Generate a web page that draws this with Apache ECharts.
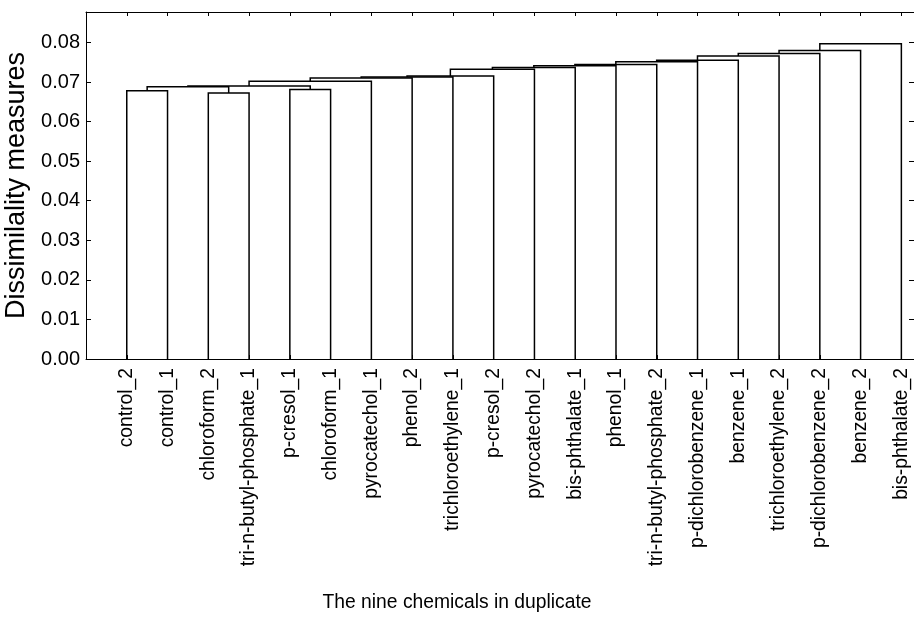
<!DOCTYPE html>
<html>
<head>
<meta charset="utf-8">
<script src="https://cdn.jsdelivr.net/npm/echarts@6/dist/echarts.min.js"></script>
<style>
  html, body { margin: 0; padding: 0; background: #fff; }
  #chart { width: 914px; height: 644px; }
</style>
</head>
<body>
<div id="chart"></div>
<script>
// Leaves in dendrogram order (left to right)
const leaves = [
  'control_2', 'control_1', 'chloroform_2', 'tri-n-butyl-phosphate_1',
  'p-cresol_1', 'chloroform_1', 'pyrocatechol_1', 'phenol_2',
  'trichloroethylene_1', 'p-cresol_2', 'pyrocatechol_2', 'bis-phthalate_1',
  'phenol_1', 'tri-n-butyl-phosphate_2', 'p-dichlorobenzene_1', 'benzene_1',
  'trichloroethylene_2', 'p-dichlorobenzene_2', 'benzene_2', 'bis-phthalate_2'
];

// Linkage: merge k creates node id (leaves.length + k) from two child ids
const mergeLeft  = [2, 0, 4, 21, 23, 24, 25, 26, 27, 28, 29, 30, 31, 32, 33, 34, 35, 36, 37];
const mergeRight = [3, 1, 5, 20, 22, 6, 7, 8, 9, 10, 11, 12, 13, 14, 15, 16, 17, 18, 19];
const mergeHeight = [
  0.0672, 0.0678, 0.0681, 0.0688, 0.0690, 0.0702, 0.0710, 0.0713, 0.0715, 0.0732,
  0.0737, 0.0741, 0.0744, 0.0751, 0.0755, 0.0766, 0.0772, 0.0780, 0.0797
];

// Y axis tick values
const yTicks = [0, 0.01, 0.02, 0.03, 0.04, 0.05, 0.06, 0.07, 0.08];

const FONT = "'Liberation Sans', Arial, Helvetica, sans-serif";

// Build the U-shaped links of the dendrogram in data coordinates
const nodes = leaves.map((_, i) => ({ x: i, h: 0 }));
const links = [];
mergeHeight.forEach((h, k) => {
  const a = nodes[mergeLeft[k]];
  const b = nodes[mergeRight[k]];
  links.push({ coords: [[a.x, a.h], [a.x, h], [b.x, h], [b.x, b.h]] });
  nodes.push({ x: (a.x + b.x) / 2, h: h });
});

const leafIdx = leaves.map((_, i) => i);

const chart = echarts.init(document.getElementById('chart'), null, { renderer: 'canvas' });
chart.setOption({
  animation: false,
  backgroundColor: '#fff',
  textStyle: { fontFamily: FONT },
  title: {
    text: 'The nine chemicals in duplicate',
    left: 'center',
    top: 588,
    textStyle: { fontSize: 19.3, fontWeight: 'normal', color: '#000', fontFamily: FONT }
  },
  grid: { left: 86, right: 0, top: 12, bottom: 285, containLabel: false, outerBoundsMode: 'none' },
  xAxis: [
    {
      type: 'value', position: 'bottom', min: -1, max: 19.31,
      splitLine: { show: false },
      axisLine: { show: true, onZero: false, lineStyle: { color: '#000', width: 1 } },
      axisTick: { show: true, inside: true, length: 4, customValues: leafIdx, lineStyle: { color: '#000' } },
      axisLabel: {
        customValues: leafIdx, rotate: 90, margin: 9, fontSize: 19.3, color: '#000', fontFamily: FONT,
        formatter: v => leaves[Math.round(v)] || ''
      }
    },
    {
      type: 'value', position: 'top', min: -1, max: 19.31,
      splitLine: { show: false },
      axisLine: { show: true, onZero: false, lineStyle: { color: '#000', width: 1 } },
      axisTick: { show: true, inside: true, length: 4, customValues: leafIdx, lineStyle: { color: '#000' } },
      axisLabel: { show: false }
    }
  ],
  yAxis: [
    {
      type: 'value', position: 'left', min: 0, max: 0.0877,
      name: 'Dissimilality measures', nameLocation: 'middle', nameGap: 51,
      nameTextStyle: { fontSize: 27, color: '#000', fontFamily: FONT },
      splitLine: { show: false },
      axisLine: { show: true, onZero: false, lineStyle: { color: '#000', width: 1 } },
      axisTick: { show: true, inside: true, length: 5, customValues: yTicks, lineStyle: { color: '#000' } },
      axisLabel: {
        customValues: yTicks, margin: 6, fontSize: 20, color: '#000', fontFamily: FONT,
        formatter: v => v.toFixed(2)
      }
    },
    {
      type: 'value', position: 'right', min: 0, max: 0.0877,
      splitLine: { show: false },
      axisLine: { show: false, onZero: false },
      axisTick: { show: true, inside: true, length: 5, customValues: yTicks, lineStyle: { color: '#000' } },
      axisLabel: { show: false }
    }
  ],
  series: [
    {
      type: 'lines',
      coordinateSystem: 'cartesian2d',
      xAxisIndex: 0,
      yAxisIndex: 0,
      polyline: true,
      silent: true,
      lineStyle: { color: '#000', width: 1.5, opacity: 1, curveness: 0 },
      data: links
    }
  ]
});
</script>
</body>
</html>
